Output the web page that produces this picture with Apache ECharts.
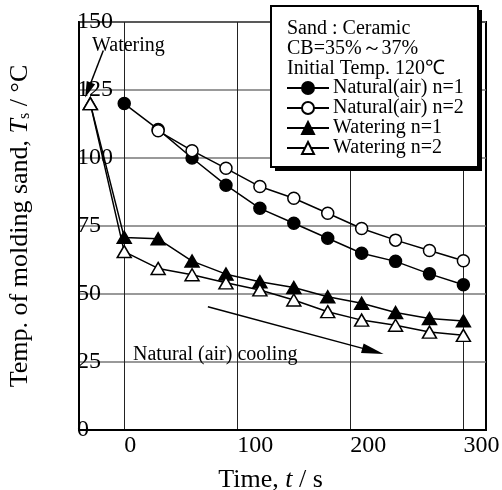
<!DOCTYPE html>
<html>
<head>
<meta charset="utf-8">
<script src="https://cdn.jsdelivr.net/npm/echarts@6/dist/echarts.min.js"></script>
<style>
html, body { margin: 0; padding: 0; background: #fff; }
#chart { width: 502px; height: 490px; }
</style>
</head>
<body>
<div id="chart"></div>
<script>
// time (s) of each reading
const naturalTimes = [0, 30, 60, 90, 120, 150, 180, 210, 240, 270, 300];
const wateringTimes = [-30, 0, 30, 60, 90, 120, 150, 180, 210, 240, 270, 300];

// sand temperature (°C)
const naturalN1 = [120, 110.5, 100, 90, 81.5, 76, 70.5, 65, 62, 57.4, 53.4];
const naturalN2 = [null, 110, 102.7, 96.2, 89.5, 85.2, 79.7, 74.1, 69.8, 66, 62.2];
const wateringN1 = [120, 70.8, 70.3, 62.1, 57.3, 54.5, 52.4, 49, 46.6, 43.2, 41, 40.1];
const wateringN2 = [120, 65.6, 59.4, 57.1, 54.1, 51.5, 47.8, 43.5, 40.4, 38.5, 36, 34.8];

const seriesNames = ['Natural(air) n=1', 'Natural(air) n=2', 'Watering n=1', 'Watering n=2'];
const xTicks = [0, 100, 200, 300];
const infoLines = ['Sand : Ceramic', 'CB=35%～37%', 'Initial Temp. 120℃'];

// annotation arrows [start, tip] in data space
const wateringArrow = [[-18.5, 139.5], [-32, 125]];
const coolingArrow = [[74, 45.3], [220, 29]];

const serif = "'Liberation Serif', 'Times New Roman', serif";

function pairs(xs, ys) {
    return xs.map(function (x, i) { return [x, ys[i]]; });
}

function makeSeries(name, xs, ys, symbol, filled) {
    return {
        name: name,
        type: 'line',
        data: pairs(xs, ys),
        symbol: symbol,
        symbolSize: symbol === 'circle' ? 12 : [14, 12],
        showAllSymbol: true,
        connectNulls: false,
        lineStyle: { color: '#000', width: 1.5 },
        itemStyle: {
            color: filled ? '#000' : '#fff',
            borderColor: '#000',
            borderWidth: 1.5
        }
    };
}

const chart = echarts.init(document.getElementById('chart'));

const option = {
    animation: false,
    backgroundColor: '#fff',
    textStyle: { fontFamily: serif, color: '#000' },
    grid: {
        left: 79, right: 16, top: 22, bottom: 60,
        outerBoundsMode: 'none',
        containLabel: false,
        show: true, borderColor: '#000', borderWidth: 2, backgroundColor: 'transparent'
    },
    xAxis: {
        type: 'value',
        min: -40,
        max: 320,
        name: 'Time, {i|t} / s',
        nameLocation: 'middle',
        nameGap: 37,
        nameTextStyle: {
            fontFamily: serif, fontSize: 26, color: '#000',
            padding: [0, 24, 0, 0],
            rich: { i: { fontFamily: serif, fontSize: 26, fontStyle: 'italic' } }
        },
        axisLine: { show: true, onZero: false, lineStyle: { color: '#000', width: 2 } },
        axisTick: { show: false, customValues: xTicks },
        axisLabel: {
            customValues: xTicks,
            align: 'left',
            margin: 4,
            fontFamily: serif, fontSize: 24, color: '#000'
        },
        splitLine: { show: true, lineStyle: { color: '#222', width: 1 } }
    },
    yAxis: {
        type: 'value',
        min: 0,
        max: 150,
        interval: 25,
        name: 'Temp. of molding sand, {i|T}{s|s} / °C',
        nameLocation: 'middle',
        nameRotate: 90,
        nameGap: 46,
        nameTextStyle: {
            fontFamily: serif, fontSize: 26, color: '#000',
            rich: {
                i: { fontFamily: serif, fontSize: 26, fontStyle: 'italic' },
                s: { fontFamily: serif, fontSize: 16, verticalAlign: 'bottom', lineHeight: 14 }
            }
        },
        axisLine: { show: true, onZero: false, lineStyle: { color: '#000', width: 2 } },
        axisTick: { show: false },
        axisLabel: {
            inside: true,
            margin: -2,
            fontFamily: serif, fontSize: 24, color: '#000'
        },
        splitLine: { show: true, lineStyle: { color: '#777', width: 1.5 } }
    },
    legend: {
        data: seriesNames,
        orient: 'vertical',
        left: 286,
        top: 78,
        padding: 0,
        itemGap: 0,
        itemWidth: 42,
        itemHeight: 15,
        z: 100,
        textStyle: { fontFamily: serif, fontSize: 20, lineHeight: 20, color: '#000', padding: [0, 0, 0, -1] }
    },
    graphic: [
        { type: 'rect', z: 50, shape: { x: 275, y: 10, width: 207, height: 161 }, style: { fill: '#000' } },
        { type: 'rect', z: 51, shape: { x: 271, y: 6, width: 207, height: 161 }, style: { fill: '#fff', stroke: '#000', lineWidth: 2 } }
    ].concat(infoLines.map(function (t, i) {
        return {
            type: 'text', z: 52, left: 287, top: 19 + i * 19.8,
            style: { text: t, font: '20px ' + serif, fill: '#000' }
        };
    })).concat([
        { type: 'text', z: 52, left: 92, top: 36, style: { text: 'Watering', font: '20px ' + serif, fill: '#000' } },
        { type: 'text', z: 52, left: 133, top: 345, style: { text: 'Natural (air) cooling', font: '20px ' + serif, fill: '#000' } }
    ]),
    series: [
        makeSeries(seriesNames[0], naturalTimes, naturalN1, 'circle', true),
        makeSeries(seriesNames[1], naturalTimes, naturalN2, 'circle', false),
        makeSeries(seriesNames[2], wateringTimes, wateringN1, 'triangle', true),
        makeSeries(seriesNames[3], wateringTimes, wateringN2, 'triangle', false),
        {
            name: 'arrows',
            type: 'line',
            data: [],
            markLine: {
                silent: true,
                symbol: ['none', 'triangle'],
                label: { show: false },
                lineStyle: { color: '#000', width: 1.5, type: 'solid' },
                data: [
                    [{ coord: wateringArrow[0] }, { coord: wateringArrow[1], symbolSize: [9, 16] }],
                    [{ coord: coolingArrow[0] }, { coord: coolingArrow[1], symbolSize: [10, 22] }]
                ]
            }
        }
    ]
};

chart.setOption(option);
</script>
</body>
</html>
